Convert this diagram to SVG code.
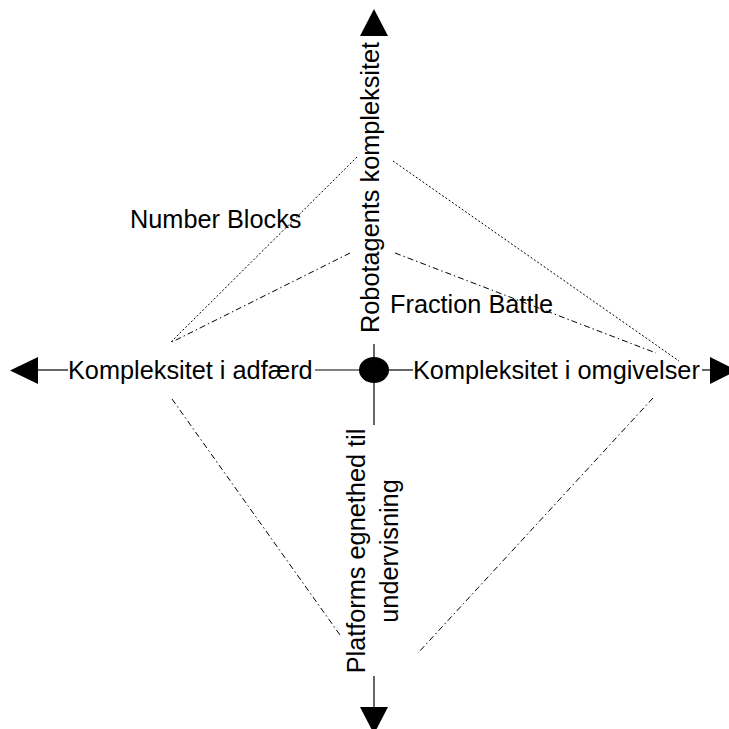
<svg xmlns="http://www.w3.org/2000/svg" width="729" height="729" viewBox="0 0 729 729">
<style>
.t{font-family:"Liberation Sans",Arial,sans-serif;font-size:25.3px;fill:#000}
.ax{stroke:#000;stroke-width:1.2;fill:none}
.dot{stroke:#000;stroke-width:1;fill:none;stroke-dasharray:2,2}
.dd{stroke:#000;stroke-width:1;fill:none;stroke-dasharray:6,3,1.5,3}
.ah{fill:#000;stroke:none}
</style>
<rect width="729" height="729" fill="#fff"/>
<g id="connectors">
<line class="dot" x1="357" y1="157" x2="170" y2="343"/>
<line class="dd" x1="350" y1="253" x2="172" y2="342"/>
<line class="dot" x1="393" y1="161" x2="679" y2="361"/>
<line class="dd" x1="395" y1="253" x2="656" y2="353"/>
<line class="dd" x1="172" y1="399" x2="340" y2="635"/>
<line class="dd" x1="653" y1="398" x2="418" y2="653"/>
</g>
<g id="axes">
<line class="ax" x1="38" y1="370" x2="68" y2="370"/>
<line class="ax" x1="315" y1="370" x2="360" y2="370"/>
<line class="ax" x1="388" y1="370" x2="413" y2="370"/>
<line class="ax" x1="702" y1="370" x2="711" y2="370"/>
<line class="ax" x1="374" y1="344" x2="374" y2="358"/>
<line class="ax" x1="374" y1="382" x2="374" y2="425"/>
<line class="ax" x1="374" y1="676" x2="374" y2="707"/>
<polygon class="ah" points="10,370.5 38,357 38,384"/>
<polygon class="ah" points="737,370.5 710,357 710,384"/>
<polygon class="ah" points="374,9 360,36 388,36"/>
<polygon class="ah" points="374,734 360,707 388,707"/>
</g>
<g id="center"><ellipse cx="374" cy="370" rx="15" ry="13" fill="#000"/></g>
<g id="label-left"><text class="t" x="68" y="379">Kompleksitet i adfærd</text></g>
<g id="label-right"><text class="t" x="413" y="379">Kompleksitet i omgivelser</text></g>
<g id="label-top"><text class="t" transform="translate(379,333) rotate(-90)">Robotagents kompleksitet</text></g>
<g id="label-bottom">
<text class="t" text-anchor="middle" transform="translate(365,551) rotate(-90)">Platforms egnethed til</text>
<text class="t" text-anchor="middle" transform="translate(398,551) rotate(-90)">undervisning</text>
</g>
<g id="number-blocks"><text class="t" x="130" y="228">Number Blocks</text></g>
<g id="fraction-battle"><text class="t" x="390" y="313">Fraction Battle</text></g>
</svg>
